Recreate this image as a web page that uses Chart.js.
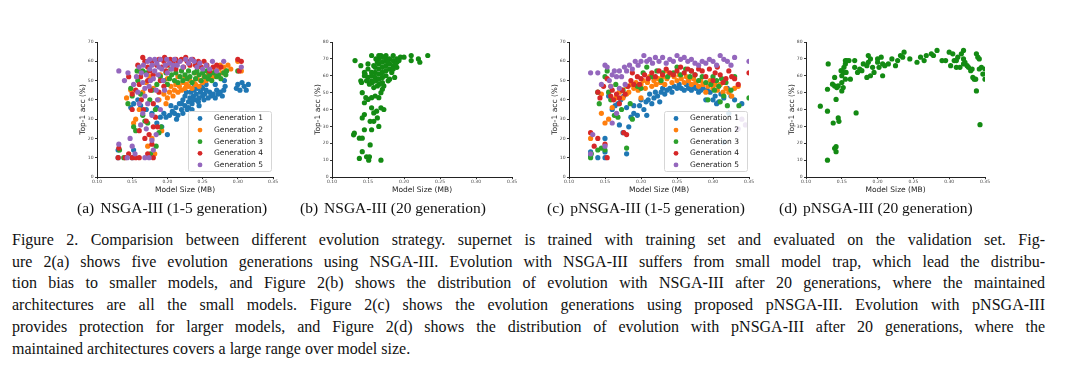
<!DOCTYPE html>
<html><head><meta charset="utf-8">
<script src="https://cdn.jsdelivr.net/npm/chart.js@4.4.0/dist/chart.umd.min.js"></script>
<style>
body{margin:0;background:#fff;width:1080px;height:380px;overflow:hidden;position:relative;font-family:"Liberation Serif","Times New Roman",serif;color:#111}
canvas{position:absolute;top:35px}
.cap{position:absolute;top:199px;font-size:15.5px;line-height:17px;white-space:nowrap}
.cap span{margin-right:6px}
.para{position:absolute;left:12px;top:229px;width:1033px;font-size:16px;line-height:21.7px}
.para div{text-align:justify;text-align-last:justify}
.para div:last-child{text-align-last:left}
</style></head>
<body>
<canvas id="chartA" width="214" height="165" style="left:67px"></canvas>
<canvas id="chartB" width="218" height="165" style="left:302px"></canvas>
<canvas id="chartC" width="218" height="165" style="left:539px"></canvas>
<canvas id="chartD" width="217" height="165" style="left:776px"></canvas>

<div class="cap" style="left:77px"><span>(a)</span>NSGA-III (1-5 generation)</div>
<div class="cap" style="left:300px"><span>(b)</span>NSGA-III (20 generation)</div>
<div class="cap" style="left:547px"><span>(c)</span>pNSGA-III (1-5 generation)</div>
<div class="cap" style="left:779px"><span>(d)</span>pNSGA-III (20 generation)</div>

<div class="para">
<div>Figure 2. Comparision between different evolution strategy. supernet is trained with training set and evaluated on the validation set. Fig-</div>
<div>ure 2(a) shows five evolution generations using NSGA-III. Evolution with NSGA-III suffers from small model trap, which lead the distribu-</div>
<div>tion bias to smaller models, and Figure 2(b) shows the distribution of evolution with NSGA-III after 20 generations, where the maintained</div>
<div>architectures are all the small models. Figure 2(c) shows the evolution generations using proposed pNSGA-III. Evolution with pNSGA-III</div>
<div>provides protection for larger models, and Figure 2(d) shows the distribution of evolution with pNSGA-III after 20 generations, where the</div>
<div>maintained architectures covers a large range over model size.</div>
</div>

<script>
const genLabels = ['Generation 1','Generation 2','Generation 3','Generation 4','Generation 5'];
const genColors = ['#1f77b4','#ff7f0e','#2ca02c','#d62728','#9467bd'];

// (a) NSGA-III, generations 1-5  [model size MB, top-1 acc %]
const gen1A = [[0.130,10],[0.150,10],[0.152,14],[0.130,14],[0.148,36],[0.152,38],[0.158,40],[0.162,37],[0.170,35],[0.178,33],[0.185,28],[0.192,26],[0.200,22],[0.190,31],[0.195,33],[0.198,31],[0.203,32],[0.207,34],[0.210,33],[0.212,36],[0.215,32],[0.217,38],[0.220,35],[0.220,38],[0.222,40],[0.225,37],[0.225,42],[0.227,44],[0.230,36],[0.230,39],[0.232,41],[0.233,44],[0.235,38],[0.237,42],[0.238,45],[0.240,40],[0.241,43],[0.243,46],[0.245,41],[0.247,44],[0.250,42],[0.250,46],[0.253,43],[0.255,45],[0.258,41],[0.260,44],[0.262,42],[0.265,43],[0.268,41],[0.270,45],[0.272,43],[0.275,44],[0.278,42],[0.280,45],[0.282,47],[0.281,50],[0.268,48],[0.255,48],[0.298,46],[0.300,48],[0.303,45],[0.306,49],[0.309,47],[0.312,45],[0.315,48],[0.205,37],[0.213,30],[0.185,36],[0.245,37],[0.235,35],[0.222,33],[0.228,35],[0.236,40],[0.244,39],[0.252,40],[0.238,47],[0.248,47]];
const gen2A = [[0.142,41],[0.148,45],[0.155,30],[0.152,28],[0.160,35],[0.165,44],[0.170,49],[0.175,52],[0.180,46],[0.182,12],[0.178,20],[0.172,16],[0.192,24],[0.188,40],[0.195,43],[0.198,38],[0.200,41],[0.203,44],[0.205,47],[0.208,42],[0.210,45],[0.212,48],[0.215,44],[0.217,47],[0.220,45],[0.222,49],[0.225,46],[0.227,48],[0.230,47],[0.232,50],[0.235,46],[0.237,49],[0.240,48],[0.242,51],[0.245,47],[0.247,50],[0.250,49],[0.252,52],[0.255,50],[0.258,53],[0.260,51],[0.262,54],[0.265,52],[0.268,55],[0.270,53],[0.273,56],[0.275,58],[0.278,54],[0.280,57],[0.283,55],[0.286,58],[0.290,56],[0.240,54],[0.225,52],[0.200,51],[0.190,53],[0.300,60],[0.305,55],[0.160,55],[0.215,52]];
const gen3A = [[0.132,14],[0.138,10],[0.144,38],[0.148,46],[0.150,42],[0.152,26],[0.155,24],[0.158,50],[0.162,43],[0.165,32],[0.168,29],[0.172,28],[0.176,12],[0.184,16],[0.188,23],[0.191,26],[0.178,45],[0.185,48],[0.190,52],[0.195,50],[0.198,54],[0.200,48],[0.203,51],[0.206,53],[0.210,50],[0.212,54],[0.215,49],[0.218,52],[0.220,55],[0.222,50],[0.225,53],[0.228,51],[0.230,55],[0.232,52],[0.235,49],[0.238,54],[0.240,51],[0.242,55],[0.245,53],[0.248,50],[0.250,54],[0.253,52],[0.256,55],[0.258,51],[0.260,53],[0.263,50],[0.266,54],[0.270,52],[0.273,53],[0.276,51],[0.280,54],[0.284,55],[0.283,53],[0.300,55],[0.170,54],[0.165,55],[0.157,55],[0.175,40],[0.183,35],[0.205,56]];
const gen4A = [[0.130,10],[0.140,10],[0.150,10],[0.155,10],[0.160,10],[0.131,15],[0.145,12],[0.168,20],[0.174,22],[0.180,26],[0.186,26],[0.178,17],[0.172,12],[0.180,10],[0.160,24],[0.163,40],[0.155,45],[0.150,43],[0.145,52],[0.158,58],[0.165,62],[0.168,60],[0.172,57],[0.175,55],[0.178,60],[0.180,53],[0.185,58],[0.188,61],[0.192,57],[0.195,60],[0.198,55],[0.200,58],[0.204,61],[0.208,59],[0.212,56],[0.215,60],[0.220,61],[0.223,57],[0.228,60],[0.232,58],[0.236,61],[0.240,58],[0.244,60],[0.248,57],[0.252,60],[0.256,58],[0.260,55],[0.265,57],[0.270,58],[0.276,57],[0.300,61],[0.305,60],[0.302,55],[0.172,50],[0.160,48],[0.176,45],[0.166,35],[0.180,38],[0.188,44],[0.195,47],[0.183,31],[0.170,29],[0.150,35],[0.162,52],[0.190,50],[0.196,62],[0.212,61],[0.226,62]];
const gen5A = [[0.131,17],[0.131,55],[0.139,50],[0.144,54],[0.147,20],[0.150,16],[0.154,12],[0.143,10],[0.168,10],[0.174,10],[0.178,19],[0.184,22],[0.180,14],[0.152,48],[0.156,52],[0.160,57],[0.163,54],[0.166,58],[0.170,53],[0.172,60],[0.175,56],[0.178,58],[0.180,51],[0.182,55],[0.185,59],[0.187,53],[0.190,61],[0.192,56],[0.194,50],[0.197,58],[0.200,54],[0.203,59],[0.206,56],[0.210,61],[0.214,58],[0.218,60],[0.222,57],[0.226,61],[0.230,59],[0.234,61],[0.238,60],[0.242,57],[0.246,59],[0.250,56],[0.255,58],[0.260,56],[0.264,60],[0.270,55],[0.280,60],[0.305,57],[0.160,38],[0.165,33],[0.168,42],[0.172,38],[0.178,32],[0.170,25],[0.174,47],[0.184,45],[0.158,44],[0.165,49],[0.176,50],[0.186,40],[0.190,35],[0.168,46],[0.162,27],[0.196,45],[0.188,57],[0.199,61],[0.208,58],[0.175,61],[0.182,61]];

// (b) NSGA-III after 20 generations
const nsga20 = [[0.132,69],[0.155,72],[0.140,66],[0.145,60],[0.140,57],[0.141,56],[0.145,62],[0.150,67],[0.150,64],[0.155,60],[0.155,57],[0.156,56],[0.160,65],[0.160,62],[0.160,59],[0.161,57],[0.165,72],[0.165,70],[0.165,67],[0.165,64],[0.165,61],[0.165,58],[0.166,55],[0.170,71],[0.170,68],[0.170,65],[0.170,62],[0.170,59],[0.170,56],[0.170,52],[0.175,72],[0.175,69],[0.175,66],[0.175,63],[0.175,60],[0.180,70],[0.180,67],[0.180,64],[0.180,58],[0.185,72],[0.185,69],[0.185,66],[0.190,68],[0.190,65],[0.190,70],[0.195,71],[0.200,71],[0.210,72],[0.210,69],[0.220,70],[0.222,68],[0.233,72],[0.187,59],[0.168,50],[0.160,48],[0.155,47],[0.150,46],[0.145,44],[0.142,50],[0.155,41],[0.158,38],[0.162,39],[0.168,41],[0.172,40],[0.145,37],[0.142,35],[0.145,28],[0.155,28],[0.153,33],[0.158,33],[0.165,30],[0.163,35],[0.130,25],[0.131,26],[0.138,23],[0.142,23],[0.153,19],[0.142,15],[0.138,11],[0.148,12],[0.152,12],[0.151,10],[0.168,10],[0.165,47],[0.158,53],[0.163,54],[0.172,54],[0.178,57],[0.183,62],[0.185,64],[0.176,70],[0.163,68],[0.158,66],[0.161,70],[0.168,72],[0.172,71],[0.178,68],[0.188,67],[0.193,69],[0.155,62],[0.150,59],[0.148,57],[0.152,55],[0.147,47],[0.146,61]];

// (c) pNSGA-III, generations 1-5
const gen1C = [[0.130,13],[0.130,11],[0.140,10],[0.150,10],[0.150,20],[0.150,13],[0.180,12],[0.170,27],[0.175,23],[0.155,42],[0.160,35],[0.164,37],[0.168,38],[0.172,40],[0.176,42],[0.180,36],[0.183,26],[0.186,31],[0.190,33],[0.190,37],[0.195,32],[0.198,37],[0.200,40],[0.204,35],[0.207,39],[0.210,40],[0.212,43],[0.215,38],[0.218,41],[0.220,44],[0.223,42],[0.226,39],[0.228,44],[0.230,46],[0.233,43],[0.236,45],[0.240,46],[0.243,44],[0.246,47],[0.250,46],[0.253,48],[0.256,46],[0.260,45],[0.263,48],[0.266,46],[0.270,45],[0.273,47],[0.276,46],[0.280,44],[0.283,45],[0.286,46],[0.290,40],[0.292,45],[0.296,44],[0.300,40],[0.303,42],[0.305,38],[0.308,39],[0.311,43],[0.315,41],[0.320,46],[0.325,42],[0.330,40],[0.340,38],[0.315,18],[0.322,33],[0.208,32]];
const gen2C = [[0.130,20],[0.145,33],[0.150,28],[0.155,30],[0.160,36],[0.165,41],[0.170,44],[0.175,41],[0.180,47],[0.183,44],[0.186,48],[0.190,46],[0.193,49],[0.196,45],[0.200,48],[0.203,50],[0.206,46],[0.209,49],[0.212,52],[0.215,47],[0.218,50],[0.221,48],[0.224,51],[0.227,49],[0.230,52],[0.233,48],[0.236,51],[0.240,53],[0.243,49],[0.246,52],[0.250,50],[0.253,53],[0.256,51],[0.260,49],[0.263,52],[0.266,50],[0.270,48],[0.273,51],[0.276,49],[0.280,47],[0.283,50],[0.286,48],[0.290,44],[0.293,47],[0.296,50],[0.300,46],[0.303,48],[0.306,45],[0.310,48],[0.314,44],[0.318,46],[0.322,44],[0.326,42],[0.330,46],[0.335,47],[0.145,43],[0.200,41],[0.180,43],[0.158,47],[0.235,55]];
const gen3C = [[0.130,10],[0.131,12],[0.140,14],[0.145,15],[0.150,14],[0.142,38],[0.140,44],[0.150,52],[0.153,55],[0.158,40],[0.163,32],[0.168,31],[0.173,35],[0.180,15],[0.188,30],[0.195,47],[0.200,46],[0.203,54],[0.208,57],[0.215,52],[0.222,55],[0.230,54],[0.237,52],[0.245,54],[0.250,57],[0.255,53],[0.262,56],[0.268,52],[0.275,53],[0.280,50],[0.285,52],[0.290,49],[0.293,40],[0.297,48],[0.300,52],[0.302,45],[0.305,50],[0.308,47],[0.310,39],[0.312,51],[0.315,42],[0.318,49],[0.320,37],[0.325,45],[0.330,52],[0.336,37],[0.350,41],[0.185,38],[0.175,45],[0.165,48],[0.155,44],[0.270,55],[0.228,50]];
const gen4C = [[0.130,23],[0.135,16],[0.140,20],[0.150,17],[0.153,10],[0.176,23],[0.180,22],[0.140,44],[0.143,41],[0.148,47],[0.153,51],[0.158,42],[0.162,40],[0.166,43],[0.170,41],[0.174,45],[0.178,43],[0.182,47],[0.186,50],[0.190,48],[0.195,52],[0.200,51],[0.205,53],[0.210,51],[0.215,54],[0.220,52],[0.225,55],[0.230,53],[0.235,56],[0.240,54],[0.245,53],[0.250,55],[0.255,57],[0.260,54],[0.265,56],[0.270,55],[0.275,53],[0.280,56],[0.285,55],[0.290,52],[0.295,56],[0.300,50],[0.303,54],[0.306,57],[0.310,53],[0.314,49],[0.318,51],[0.322,55],[0.326,52],[0.330,51],[0.335,48],[0.350,54],[0.198,48],[0.170,38],[0.160,45],[0.188,54]];
const gen5C = [[0.130,12],[0.133,22],[0.150,16],[0.130,54],[0.140,54],[0.145,48],[0.150,58],[0.153,57],[0.156,50],[0.160,53],[0.163,55],[0.166,52],[0.170,55],[0.173,52],[0.177,57],[0.180,55],[0.184,58],[0.188,56],[0.192,60],[0.196,58],[0.200,60],[0.204,63],[0.208,60],[0.212,61],[0.216,59],[0.220,62],[0.225,60],[0.230,62],[0.235,59],[0.240,61],[0.245,60],[0.250,63],[0.255,61],[0.260,62],[0.265,60],[0.270,61],[0.275,59],[0.280,58],[0.285,60],[0.290,59],[0.295,61],[0.300,60],[0.305,58],[0.310,63],[0.315,61],[0.320,60],[0.325,58],[0.330,62],[0.350,60],[0.160,28],[0.166,33],[0.178,48],[0.170,46],[0.158,47],[0.340,30],[0.335,25],[0.345,27]];

// (d) pNSGA-III after 20 generations
const pnsga20 = [[0.120,42],[0.130,39],[0.131,67],[0.130,52],[0.130,10],[0.138,32],[0.140,17],[0.142,18],[0.142,15],[0.145,35],[0.146,33],[0.142,46],[0.140,54],[0.137,55],[0.143,53],[0.140,59],[0.145,54],[0.150,51],[0.150,56],[0.150,60],[0.149,63],[0.152,62],[0.153,65],[0.155,58],[0.155,67],[0.155,69],[0.157,69],[0.156,62],[0.152,53],[0.160,69],[0.162,58],[0.168,69],[0.168,65],[0.170,38],[0.172,62],[0.175,64],[0.178,63],[0.180,67],[0.185,59],[0.185,66],[0.187,68],[0.187,72],[0.190,70],[0.190,60],[0.193,65],[0.195,62],[0.200,68],[0.200,70],[0.202,65],[0.205,71],[0.207,60],[0.207,67],[0.210,66],[0.215,67],[0.220,70],[0.225,66],[0.228,69],[0.232,72],[0.235,71],[0.237,74],[0.245,70],[0.255,68],[0.260,71],[0.265,69],[0.268,72],[0.275,73],[0.278,72],[0.283,75],[0.290,69],[0.295,69],[0.300,74],[0.302,66],[0.305,73],[0.307,69],[0.310,65],[0.312,71],[0.315,65],[0.317,73],[0.320,75],[0.320,70],[0.322,68],[0.325,66],[0.327,65],[0.330,63],[0.332,64],[0.333,59],[0.335,58],[0.337,58],[0.338,51],[0.338,73],[0.340,71],[0.342,70],[0.342,64],[0.343,31],[0.345,65],[0.347,61],[0.350,58],[0.350,64],[0.320,67],[0.310,69]];

const toXY = arr => arr.map(([x,y]) => ({x,y}));
const FONT = '"DejaVu Sans", sans-serif';

// matplotlib-style legend drawn inside the plot, lower right
const insideLegend = {
  id:'insideLegend',
  afterDatasetsDraw(chart){
    const {ctx, chartArea:a} = chart;
    const w=83, h=60, x=Math.round(a.right-2-w), y=Math.round(a.bottom-6-h);
    ctx.save();
    ctx.fillStyle='rgba(255,255,255,0.85)'; ctx.strokeStyle='#d6d6d6'; ctx.lineWidth=1;
    ctx.beginPath(); ctx.roundRect(x+.5,y+.5,w,h,2); ctx.fill(); ctx.stroke();
    ctx.font='7.5px '+FONT; ctx.textBaseline='middle';
    chart.data.datasets.forEach((d,i)=>{
      const cy=y+7.5+i*11.6;
      ctx.fillStyle=d.backgroundColor; ctx.beginPath(); ctx.arc(x+12,cy,2.4,0,Math.PI*2); ctx.fill();
      ctx.fillStyle='#222'; ctx.fillText(d.label,x+26,cy);
    });
    ctx.restore();
  }
};

function scatter(id, datasets, yMax, withLegend){
  const axisGrid = {display:true, drawOnChartArea:false, drawTicks:true, tickLength:2, color:'#333'};
  new Chart(document.getElementById(id),{
    type:'scatter',
    data:{datasets},
    options:{
      responsive:false, animation:false, events:[], devicePixelRatio:1,
      layout:{padding:{left:0, top:7, right:8, bottom:0}},
      plugins:{legend:{display:false}, tooltip:{enabled:false}},
      elements:{point:{radius:2.6, borderWidth:0, pointStyle:'circle'}},
      scales:{
        x:{type:'linear', min:0.10, max:0.35,
           ticks:{stepSize:0.05, autoSkip:false, maxRotation:0, padding:0, color:'#444', font:{family:FONT, size:4.5}, callback:v=>v.toFixed(2)},
           grid:axisGrid, border:{display:true, color:'#222', width:1},
           title:{display:true, text:'Model Size (MB)', color:'#222', font:{family:FONT, size:7.5}, padding:{top:0, bottom:5}},
           afterFit:s=>{s.height=23;}},
        y:{type:'linear', min:0, max:yMax,
           ticks:{stepSize:10, autoSkip:false, padding:1.5, color:'#444', font:{family:FONT, size:4.5}},
           grid:axisGrid, border:{display:true, color:'#222', width:1},
           title:{display:true, text:'Top-1 acc (%)', color:'#222', font:{family:FONT, size:7.5}, padding:{top:11.5, bottom:0}},
           afterFit:s=>{s.width=30;}}
      }
    },
    plugins: withLegend ? [insideLegend] : []
  });
}

// later generations drawn on top, like matplotlib
const genSets = series => series.map((s,i)=>({label:genLabels[i], data:toXY(s), backgroundColor:genColors[i], order:series.length-i}));

scatter('chartA', genSets([gen1A,gen2A,gen3A,gen4A,gen5A]), 70, true);
scatter('chartB', [{label:'NSGA-III', data:toXY(nsga20), backgroundColor:'#138a13'}], 80, false);
scatter('chartC', genSets([gen1C,gen2C,gen3C,gen4C,gen5C]), 70, true);
scatter('chartD', [{label:'pNSGA-III', data:toXY(pnsga20), backgroundColor:'#138a13'}], 80, false);
</script>
</body></html>
